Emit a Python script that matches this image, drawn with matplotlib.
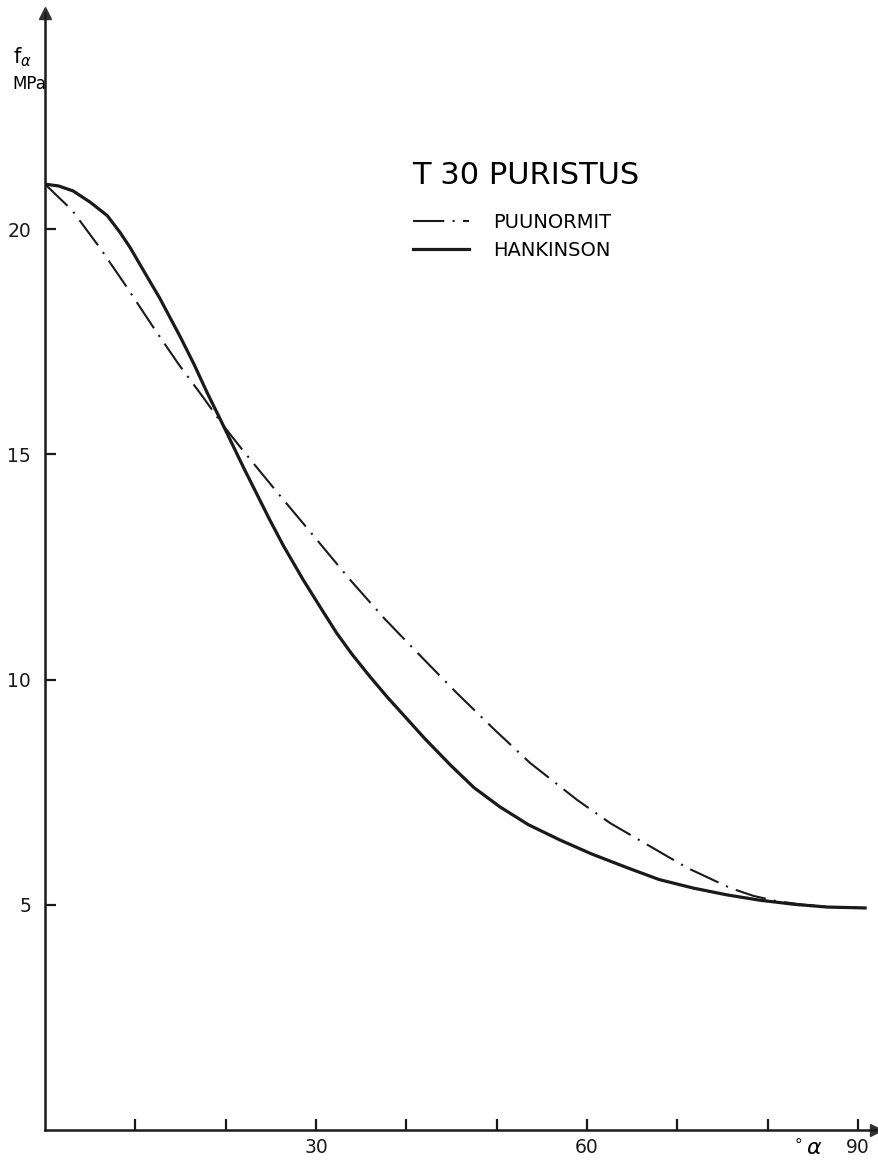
import matplotlib
matplotlib.use('Agg')
import matplotlib.pyplot as plt
from matplotlib.lines import Line2D

# values (angle in degrees, strength in MPa)
puunormit_deg = [0, 3.0, 6.1, 8.9, 12.0, 14.8, 17.5, 19.7, 21.9, 25.7, 29.7, 33.8, 37.6,
                 41.5, 45.6, 49.7, 53.7, 58.9, 62.6, 66.2, 71.1, 75.9, 78.4, 81.0, 84.0,
                 87.0, 90.5]
puunormit_mpa = [21.0, 20.42, 19.58, 18.76, 17.82, 17.0, 16.27, 15.65, 15.09, 14.16, 13.2,
                 12.21, 11.35, 10.54, 9.7, 8.9, 8.15, 7.33, 6.81, 6.39, 5.82, 5.37, 5.2,
                 5.08, 5.0, 4.95, 4.93]

hankinson_deg = [0, 1.5, 3.1, 5.0, 6.9, 8.3, 9.4, 11.0, 12.7, 15.0, 16.5, 18.0, 19.4,
                 22.0, 24.9, 26.4, 28.6, 30.5, 32.3, 34.0, 36.0, 37.9, 39.3, 42.0, 44.9,
                 47.5, 50.4, 53.5, 57.0, 60.5, 64.5, 68.0, 71.8, 75.5, 79.2, 83.0, 86.6,
                 90.8]
hankinson_mpa = [21.0, 20.96, 20.85, 20.6, 20.3, 19.93, 19.6, 19.05, 18.47, 17.6, 17.0,
                 16.35, 15.78, 14.7, 13.54, 12.97, 12.21, 11.6, 11.03, 10.56, 10.06, 9.61,
                 9.3, 8.7, 8.1, 7.6, 7.17, 6.78, 6.44, 6.13, 5.82, 5.56, 5.37, 5.22, 5.1,
                 5.01, 4.95, 4.93]

x_ticks = [10, 20, 30, 40, 50, 60, 70, 80, 90]
x_labels = ['', '', '30', '', '', '60', '', '', '90']
y_ticks = [5, 10, 15, 20]

W, H = 879, 1162
ink = '#1a1a1a'
dashdot = (15, 4, 1, 4)  # scaled by the line width

fig = plt.figure(figsize=(W / 100, H / 100), dpi=100)
ax = fig.add_axes([45 / W, (H - 1130) / H, (876 - 45) / W, (1130 - 13) / H])

ax.plot(puunormit_deg, puunormit_mpa, color=ink, lw=1.5, dashes=dashdot,
        solid_capstyle='butt')
ax.plot(hankinson_deg, hankinson_mpa, color=ink, lw=2.3)

ax.set_xlim(0, 92)
ax.set_ylim(0, 24.8)

for s in ['top', 'right']:
    ax.spines[s].set_visible(False)
for s in ['left', 'bottom']:
    ax.spines[s].set_linewidth(1.8)
    ax.spines[s].set_color(ink)

# arrow heads at the axis ends
ax.plot(1, 0, '>', color='#333333', ms=9, transform=ax.transAxes, clip_on=False)
ax.plot(0, 1, '^', color='#333333', ms=9, transform=ax.transAxes, clip_on=False)

ax.set_xticks(x_ticks)
ax.set_xticklabels(x_labels)
ax.set_yticks(y_ticks)
ax.tick_params(direction='in', length=8, width=1.6, colors=ink, labelsize=13.5)
ax.tick_params(axis='y', pad=10)
ax.tick_params(axis='x', pad=6)

fig.text(13 / W, 1 - 57 / H, r'f$_\alpha$', fontsize=15, ha='left', va='center')
fig.text(12 / W, 1 - 84 / H, 'MPa', fontsize=12, ha='left', va='center')
fig.text(790 / W, 1 - 1148 / H, r'$^\circ\alpha$', fontsize=16, ha='left', va='center')

fig.text(412 / W, 1 - 176 / H, 'T 30 PURISTUS', fontsize=22, ha='left', va='center')

handles = [Line2D([], [], color=ink, lw=1.5, dashes=dashdot),
           Line2D([], [], color=ink, lw=2.3)]
fig.legend(handles, ['PUUNORMIT', 'HANKINSON'], loc='upper left',
           bbox_to_anchor=(413 / W, 1 - 213 / H), bbox_transform=fig.transFigure,
           frameon=False, fontsize=14, handlelength=2.9, handletextpad=1.2,
           labelspacing=0.45, borderpad=0, borderaxespad=0)

fig.savefig('out.png', dpi=100)
